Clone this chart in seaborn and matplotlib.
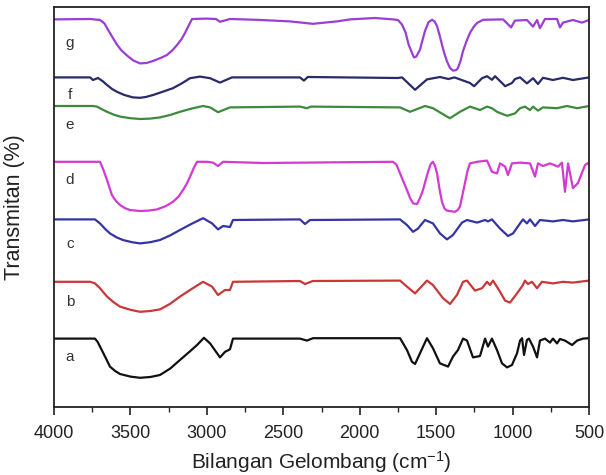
import pandas as pd
import matplotlib.pyplot as plt
import seaborn as sns

# spektra FTIR, hodnoty odčítané z obrázka (vlnočet, transmitancia s posunom)
g_wn = [4000, 3764, 3699, 3670, 3645, 3620, 3590, 3560, 3520, 3480, 3437, 3395, 3352, 3300, 3261,
        3225, 3195, 3165, 3143, 3120, 3097, 3000, 2940, 2914, 2849, 2672, 2456, 2306, 2149, 2064,
        1900, 1782, 1750, 1723, 1700, 1680, 1658, 1645, 1630, 1606, 1590, 1573, 1550, 1527, 1510,
        1494, 1478, 1462, 1445, 1429, 1410, 1390, 1370, 1357, 1340, 1324, 1300, 1279, 1255, 1233,
        1193, 1062, 1010, 984, 906, 866, 840, 821, 788, 709, 690, 670, 605, 546, 500]
g_t = [96.9, 97.0, 96.75, 95.9, 94.2, 92.6, 90.7, 89.2, 87.8, 86.6, 85.9, 86.0, 86.5, 87.3, 88.0,
       89.2, 90.5, 92.0, 93.5, 95.3, 97.0, 97.1, 97.0, 96.3, 97.0, 96.8, 96.4, 95.8, 96.4, 96.9,
       97.25, 96.9, 96.75, 95.6, 93.6, 90.6, 88.5, 87.4, 87.6, 89.3, 91.6, 94.0, 96.2, 96.8, 96.4,
       95.2, 93.0, 90.6, 88.2, 86.4, 84.8, 84.1, 84.2, 84.75, 86.6, 89.0, 91.6, 93.5, 95.0, 96.0,
       96.8, 96.9, 94.9, 96.6, 96.75, 95.1, 96.75, 94.7, 97.0, 97.0, 94.9, 96.1, 96.75, 96.1, 96.75]

f_wn = [4000, 3764, 3745, 3712, 3680, 3653, 3620, 3588, 3540, 3483, 3437, 3400, 3352, 3290, 3222,
        3160, 3110, 3045, 2979, 2914, 2836, 2391, 2365, 2340, 1750, 1723, 1638, 1560, 1475, 1420,
        1380, 1279, 1252, 1200, 1167, 1135, 1115, 1069, 1049, 1004, 984, 951, 906, 866, 834,
        801, 736, 670, 605, 500]
f_t = [82.4, 82.4, 81.75, 82.25, 81.4, 80.5, 79.5, 78.8, 78.0, 77.4, 77.3, 77.5, 78.0, 78.8, 79.7,
       81.0, 82.2, 82.6, 82.2, 81.1, 82.4, 82.4, 81.6, 82.5, 82.25, 82.4, 79.3, 81.9, 82.5, 82.0,
       82.4, 81.0, 80.2, 82.2, 82.7, 81.8, 82.7, 81.0, 80.2, 81.0, 82.0, 82.4, 80.9, 82.2, 80.75,
       82.3, 81.75, 82.3, 81.75, 82.4]

e_wn = [4000, 3745, 3719, 3690, 3653, 3610, 3568, 3500, 3437, 3370, 3307, 3240, 3176, 3100, 3025,
        2979, 2927, 2849, 2391, 2345, 2320, 1750, 1736, 1671, 1573, 1521, 1429, 1409, 1344, 1279,
        1213, 1167, 1135, 1102, 1036, 984, 951, 919, 886, 866, 834, 801, 709, 644, 578, 500]
e_t = [75.25, 75.25, 75.1, 74.5, 73.8, 73.1, 72.6, 72.2, 72.0, 72.1, 72.4, 73.0, 73.8, 74.6, 75.25,
       74.9, 73.7, 74.9, 75.1, 74.7, 75.1, 74.9, 74.9, 73.8, 75.25, 74.7, 72.6, 72.2, 73.8, 75.1,
       74.25, 75.1, 74.7, 73.8, 72.8, 73.4, 74.7, 75.1, 74.25, 75.1, 74.1, 74.9, 74.7, 75.25, 74.7,
       75.25]

d_wn = [4000, 3699, 3680, 3653, 3635, 3621, 3595, 3568, 3535, 3503, 3437, 3380, 3326, 3270, 3222,
        3185, 3156, 3130, 3110, 3085, 3064, 2999, 2960, 2927, 2894, 2633, 1782, 1760, 1736, 1710,
        1691, 1670, 1651, 1625, 1605, 1586, 1570, 1553, 1535, 1521, 1508, 1494, 1478, 1462, 1445,
        1429, 1377, 1360, 1344, 1328, 1311, 1295, 1279, 1233, 1167, 1135, 1102, 1082, 1049, 1030,
        1004, 951, 886, 853, 834, 801, 755, 703, 677, 657, 637, 605, 572, 526, 500]
d_t = [61.3, 61.3, 59.6, 56.75, 54.6, 53.0, 51.5, 50.5, 49.7, 49.25, 49.0, 49.1, 49.4, 50.2, 51.3,
       52.6, 54.25, 55.9, 57.6, 59.8, 61.3, 61.3, 61.1, 60.25, 61.3, 61.0, 61.3, 60.6, 58.4, 56.0,
       54.25, 52.2, 50.9, 50.75, 52.3, 54.25, 56.5, 58.8, 60.8, 61.3, 60.3, 58.4, 54.5, 51.3, 49.6,
       49.1, 48.8, 49.2, 50.1, 53.0, 56.1, 59.0, 60.9, 61.3, 61.6, 58.8, 58.4, 60.9, 60.1, 58.0,
       60.9, 61.1, 60.9, 57.6, 60.9, 60.25, 60.9, 60.1, 61.1, 53.8, 60.9, 54.7, 56.0, 60.5, 61.1]

c_wn = [4000, 3732, 3699, 3665, 3634, 3590, 3549, 3490, 3437, 3370, 3307, 3240, 3176, 3100, 3025,
        2966, 2927, 2894, 2849, 2829, 2391, 2358, 2325, 1736, 1691, 1651, 1619, 1573, 1521, 1475,
        1429, 1390, 1331, 1298, 1232, 1180, 1161, 1135, 1082, 1030, 997, 951, 932, 906, 886,
        853, 821, 736, 670, 605, 500]
c_t = [46.9, 46.9, 45.9, 44.5, 43.4, 42.4, 41.75, 41.2, 40.9, 41.2, 41.75, 42.9, 44.25, 45.8, 47.2,
       45.9, 44.4, 45.25, 45.0, 46.75, 46.9, 45.75, 46.75, 46.9, 45.5, 43.8, 44.6, 46.75, 45.9, 43.4,
       41.9, 43.0, 46.1, 46.75, 46.1, 46.75, 46.4, 46.9, 44.6, 42.75, 43.4, 45.9, 46.9, 45.9, 46.9,
       45.25, 46.75, 46.4, 46.75, 46.4, 46.9]

b_wn = [4000, 3764, 3732, 3699, 3675, 3653, 3610, 3568, 3500, 3437, 3370, 3307, 3240, 3176, 3100,
        3025, 2966, 2927, 2881, 2849, 2829, 2391, 2358, 2306, 1736, 1691, 1638, 1560, 1521, 1455,
        1409, 1364, 1324, 1298, 1246, 1200, 1167, 1148, 1128, 1082, 1049, 1017, 971, 932, 919,
        899, 873, 840, 808, 736, 670, 605, 500]
b_t = [31.3, 31.3, 30.9, 29.7, 28.6, 27.6, 26.2, 25.1, 24.3, 23.8, 24.0, 24.4, 25.8, 27.6, 29.5,
       31.3, 30.1, 28.0, 29.25, 29.25, 31.3, 31.5, 30.75, 31.5, 31.6, 30.1, 28.4, 31.6, 30.5, 27.2,
       25.75, 28.0, 31.3, 31.6, 29.1, 29.7, 31.3, 30.5, 31.6, 28.8, 26.6, 26.1, 28.4, 30.5, 31.6,
       30.75, 31.3, 29.7, 31.3, 30.9, 31.3, 31.1, 31.6]

a_wn = [4000, 3732, 3715, 3699, 3666, 3634, 3600, 3568, 3500, 3437, 3370, 3307, 3240, 3176, 3120,
        3064, 3019, 2979, 2914, 2881, 2849, 2829, 2391, 2345, 2306, 1736, 1691, 1658, 1638, 1606,
        1560, 1521, 1475, 1422, 1390, 1357, 1324, 1298, 1259, 1213, 1180, 1161, 1135, 1102, 1069,
        1036, 1004, 971, 951, 938, 925, 906, 893, 866, 840, 821, 788, 755, 736, 709,
        690, 657, 611, 578, 539, 500]
a_t = [17.1, 17.1, 16.3, 15.1, 12.6, 10.1, 9.0, 8.25, 7.6, 7.3, 7.5, 8.0, 9.6, 11.75, 13.6,
       15.5, 17.3, 15.9, 12.4, 13.8, 14.4, 17.1, 17.1, 16.6, 17.2, 17.2, 14.25, 11.3, 10.75, 13.4,
       17.2, 14.7, 10.9, 10.1, 12.6, 14.25, 17.1, 16.6, 12.4, 12.75, 17.1, 15.1, 17.1, 14.25, 10.9,
       9.9, 10.5, 13.4, 16.6, 17.2, 13.0, 16.75, 17.1, 15.1, 12.4, 16.6, 17.1, 16.1, 17.1, 15.9,
       17.0, 16.6, 15.5, 16.6, 17.1, 17.2]

samples = ["a", "b", "c", "d", "e", "f", "g"]
label_y = [12.5, 26.25, 40.75, 56.75, 70.5, 78.0, 91.0]
colors = ["#111111", "#c83838", "#3434a6", "#d23ad2", "#3d8a3d", "#272b6a", "#9a3ed4"]

spectra = {"a": (a_wn, a_t), "b": (b_wn, b_t), "c": (c_wn, c_t), "d": (d_wn, d_t),
           "e": (e_wn, e_t), "f": (f_wn, f_t), "g": (g_wn, g_t)}
frames = [pd.DataFrame({"wn": wn, "t": t, "vzorka": s}) for s, (wn, t) in spectra.items()]
df = pd.concat(frames, ignore_index=True)

sns.set_style("ticks")
plt.rcParams["font.family"] = ["Liberation Sans", "DejaVu Sans"]
plt.rcParams["mathtext.default"] = "regular"

fig = plt.figure(figsize=(6.06, 4.75), dpi=100)
ax = fig.add_axes([54 / 606, 1 - 407 / 475, 535 / 606, 400 / 475])
sns.lineplot(data=df, x="wn", y="t", hue="vzorka", palette=dict(zip(samples, colors)),
             estimator=None, sort=True, linewidth=1.6, legend=False, ax=ax)

# označenie vzoriek
for s, y in zip(samples, label_y):
    ax.text(3895, y, s, fontsize=11, color="#333333", ha="center", va="center")

ax.set_xlim(4000, 500)
ax.set_ylim(0, 100)
ax.set_xticks([4000, 3500, 3000, 2500, 2000, 1500, 1000, 500])
ax.set_xticks([3750, 3250, 2750, 2250, 1750, 1250, 750], minor=True)
ax.set_yticks([])
ax.tick_params(axis="x", which="major", direction="out", length=6, width=1.2, labelsize=13,
               colors="#222222", pad=7)
ax.tick_params(axis="x", which="minor", direction="out", length=3.5, width=1.0)
for sp in ax.spines.values():
    sp.set_visible(True)
    sp.set_linewidth(1.3)
    sp.set_color("#222222")
ax.set_xlabel("Bilangan Gelombang (cm$^{-1}$)", fontsize=15, color="#222222", labelpad=5)
ax.set_ylabel("Transmitan (%)", fontsize=15.5, color="#222222", labelpad=21)

plt.savefig("out.png", dpi=100)
